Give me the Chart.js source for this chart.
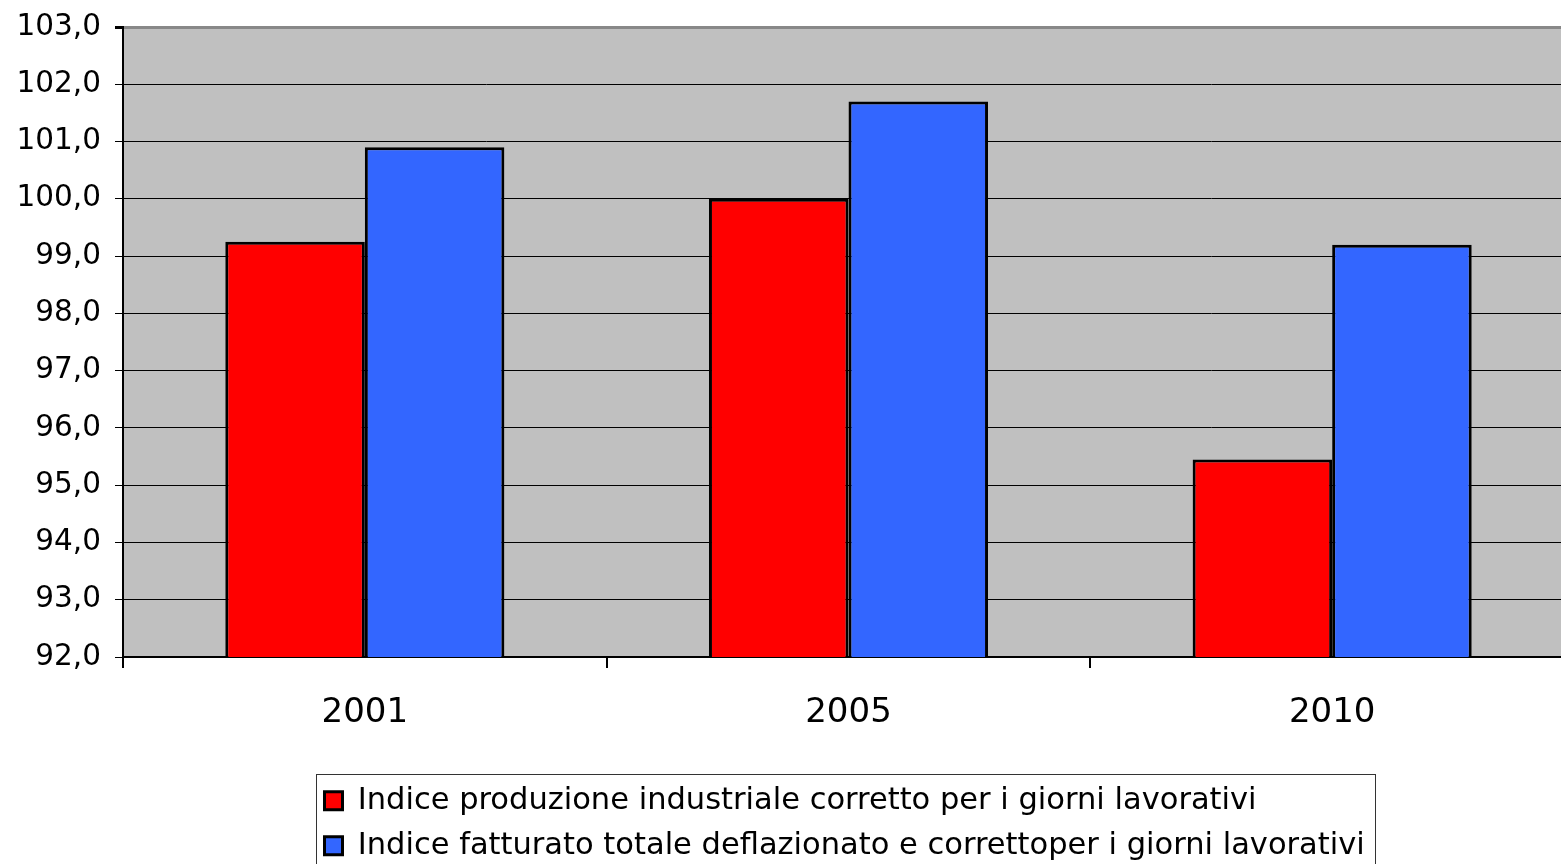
<!DOCTYPE html>
<html>
<head>
<meta charset="utf-8">
<script src="https://cdn.jsdelivr.net/npm/chart.js@4/dist/chart.umd.min.js"></script>
<style>
  html, body { margin: 0; padding: 0; background: #fff; overflow: hidden; }
  #wrap { position: absolute; left: 0; top: 0; width: 1580px; height: 900px; }
</style>
</head>
<body>
<div id="wrap"><canvas id="c"></canvas></div>
<script>
const categories = ['2001', '2005', '2010'];
const seriesLabels = [
  'Indice produzione industriale corretto per i giorni lavorativi',
  'Indice fatturato totale deflazionato e correttoper i giorni lavorativi'
];
const produzione = [99.25, 100.0, 95.45];
const fatturato = [100.9, 101.7, 99.2];
const yMin = 92, yMax = 103, yStep = 1;

const FONT = '"DejaVu Sans", Verdana, sans-serif';

const plotBg = {
  id: 'plotBg',
  beforeDraw(chart) {
    const a = chart.chartArea, ctx = chart.ctx;
    ctx.save();
    ctx.fillStyle = '#C0C0C0';
    ctx.fillRect(a.left, a.top, a.right - a.left, a.bottom - a.top);
    ctx.restore();
  }
};

const legendPlace = {
  id: 'legendPlace',
  afterLayout(chart) {
    const lg = chart.legend;
    if (!lg) return;
    lg.left = 310; lg.right = 1390; lg.top = 771;
    lg.width = lg.right - lg.left;
  },
  afterDraw(chart) {
    const ctx = chart.ctx;
    ctx.save();
    ctx.strokeStyle = '#333';
    ctx.lineWidth = 1;
    ctx.strokeRect(316.5, 774.5, 1059, 200);
    ctx.restore();
  }
};

new Chart(document.getElementById('c'), {
  type: 'bar',
  data: {
    labels: categories,
    datasets: [
      { label: seriesLabels[0], data: produzione, backgroundColor: '#FF0000', borderColor: '#000', borderWidth: 3,
        categoryPercentage: 0.577, barPercentage: 1.0 },
      { label: seriesLabels[1], data: fatturato, backgroundColor: '#3366FF', borderColor: '#000', borderWidth: 3,
        categoryPercentage: 0.577, barPercentage: 1.0 }
    ]
  },
  options: {
    responsive: true,
    maintainAspectRatio: false,
    animation: false,
    layout: { padding: { top: 27, right: 6, bottom: 0, left: 0 } },
    plugins: {
      tooltip: { enabled: false },
      legend: {
        display: true,
        position: 'bottom',
        align: 'start',
        fullSize: false,
        labels: {
          boxWidth: 18, boxHeight: 18, padding: 14.5,
          color: '#000',
          font: { family: FONT, size: 30.5 }
        }
      }
    },
    scales: {
      x: {
        offset: true,
        grid: { display: true, offset: true, drawOnChartArea: false, drawTicks: true, tickLength: 11, color: '#000', lineWidth: 2 },
        border: { display: true, color: '#000', width: 2 },
        ticks: { color: '#000', font: { family: FONT, size: 34 }, padding: 25, maxRotation: 0 },
        afterFit(s) { s.height = 143; s.paddingLeft = 0; s.paddingRight = 0; }
      },
      y: {
        min: yMin, max: yMax,
        grid: {
          color: (c) => (c.tick && c.tick.value === yMax) ? '#888' : '#000',
          lineWidth: (c) => (c.tick && c.tick.value === yMax) ? 3 : 1,
          tickColor: '#000',
          tickLength: 8
        },
        border: { display: true, color: '#000', width: 2 },
        ticks: {
          stepSize: yStep,
          color: '#000',
          padding: 14,
          font: { family: FONT, size: 29.5 },
          callback: (v) => v.toFixed(1).replace('.', ',')
        },
        afterFit(s) { s.width = 123; s.paddingTop = 0; s.paddingBottom = 0; }
      }
    }
  },
  plugins: [plotBg, legendPlace]
});
</script>
</body>
</html>
